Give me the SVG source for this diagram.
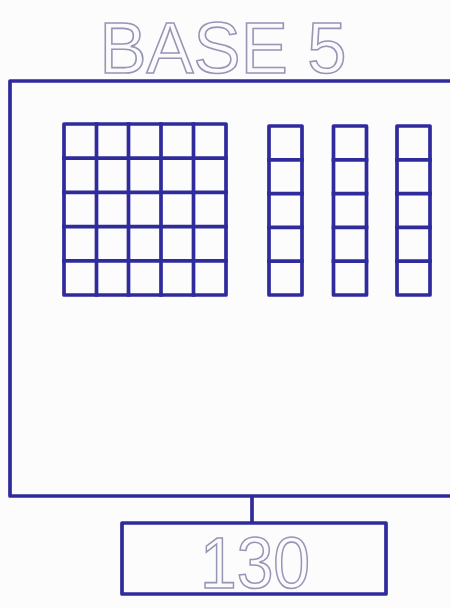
<svg xmlns="http://www.w3.org/2000/svg" width="450" height="608" viewBox="0 0 450 608">
  <style>
    .ln { fill: none; stroke: #2f2b9c; stroke-width: 3.7; stroke-linejoin: round; stroke-linecap: square; }
    .lbl { font-family: "Liberation Sans", "DejaVu Sans", sans-serif; font-size: 72px; fill: #fbfbfd; stroke: #9795b4; stroke-width: 1.6; }
  </style>
  <defs>
    <g id="rod">
      <rect class="ln" x="0" y="0" width="33" height="169"/>
      <path class="ln" d="M0 33.8H33M0 67.6H33M0 101.4H33M0 135.2H33"/>
    </g>
  </defs>
  <rect x="0" y="0" width="450" height="608" fill="#fcfcfd"/>

  <g id="title">
    <text class="lbl" x="223" y="73" text-anchor="middle" textLength="247" lengthAdjust="spacingAndGlyphs">BASE 5</text>
  </g>

  <g id="frame">
    <rect class="ln" x="10" y="81" width="470" height="415"/>
  </g>

  <g id="flat">
    <rect class="ln" x="64" y="124" width="162" height="171"/>
    <path class="ln" d="M96.5 124V295M128.5 124V295M161 124V295M193.5 124V295M64 158.2H226M64 192.4H226M64 226.6H226M64 260.8H226"/>
  </g>

  <g id="rod1"><use href="#rod" x="269" y="126"/></g>
  <g id="rod2"><use href="#rod" x="333.5" y="126"/></g>
  <g id="rod3"><use href="#rod" x="397" y="126"/></g>

  <g id="connectors">
    <line class="ln" x1="252" y1="497" x2="252" y2="522"/>
  </g>

  <g id="result">
    <rect class="ln" x="122" y="523" width="264" height="71"/>
    <text class="lbl" x="255" y="588" text-anchor="middle" textLength="110" lengthAdjust="spacingAndGlyphs">130</text>
  </g>
</svg>
